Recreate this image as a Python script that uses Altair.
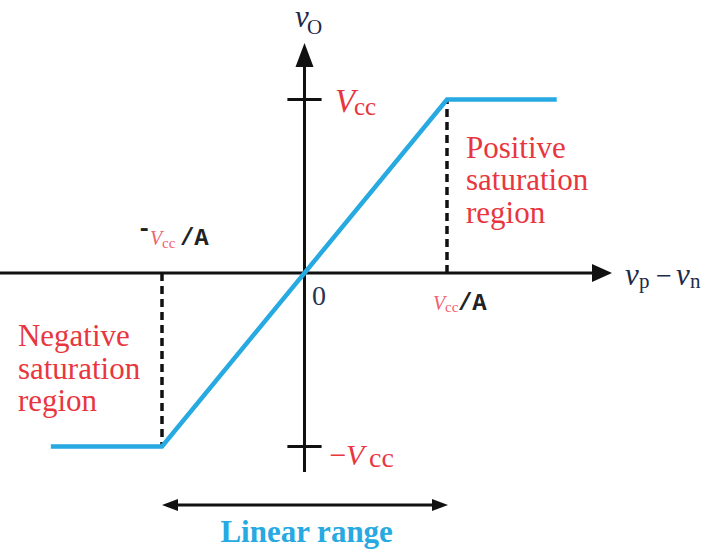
import altair as alt
import pandas as pd

# Op-amp transfer characteristic: x in units of Vcc/A, y in units of Vcc
curve_x = [-1.78, -1.0, 1.0, 1.77]
curve_y = [-1.0, -1.0, 1.0, 1.0]

# saturation boundaries (dashed guides)
break_x = [-1.0, 1.0]
break_y = [-1.0, 1.0]

# tick marks on the output axis at +Vcc and -Vcc
tick_levels = [1.0, -1.0]

# visible window of the drawing
X_DOM = [-2.1368, 2.9509]
Y_DOM = [-1.6138, 1.5735]

RED = "#e8363f"
PINK = "#f2606f"
BLUE = "#27a9e1"
INK = "#1e2a48"
BLACK = "#111111"
SERIF = "'Liberation Serif', 'Times New Roman', 'DejaVu Serif', serif"
MONO = "'Liberation Mono', 'Courier New', 'DejaVu Sans Mono', monospace"

xs = alt.Scale(domain=X_DOM, nice=False, zero=False)
ys = alt.Scale(domain=Y_DOM, nice=False, zero=False)


def X(f):
    return alt.X(f, type="quantitative", scale=xs, axis=None)


def Y(f):
    return alt.Y(f, type="quantitative", scale=ys, axis=None)


def X2(f):
    return alt.X2(f)


def Y2(f):
    return alt.Y2(f)


# axes drawn as arrows through the origin
axes_df = pd.DataFrame({
    "x1": [-2.14, 0.0], "x2": [2.12, 0.0],
    "y1": [0.0, -1.147], "y2": [0.0, 1.29],
})
axes = alt.Chart(axes_df).mark_rule(color=BLACK, strokeWidth=3).encode(
    x=X("x1"), x2=X2("x2"), y=Y("y1"), y2=Y2("y2"))

ticks_df = pd.DataFrame({"y": tick_levels, "x1": [-0.12] * 2, "x2": [0.12] * 2})
ticks = alt.Chart(ticks_df).mark_rule(color=BLACK, strokeWidth=3).encode(
    x=X("x1"), x2=X2("x2"), y=Y("y"), y2=Y2("y"))

guides_df = pd.DataFrame({"x": break_x, "y1": [0.0, 0.0], "y2": break_y})
guides = alt.Chart(guides_df).mark_rule(
    color=BLACK, strokeWidth=3.5, strokeDash=[8, 5]).encode(
    x=X("x"), x2=X2("x"), y=Y("y1"), y2=Y2("y2"))

# linear range double arrow
span_df = pd.DataFrame({"x1": [-0.95], "x2": [0.96], "y": [-1.337]})
span = alt.Chart(span_df).mark_rule(color=BLACK, strokeWidth=3).encode(
    x=X("x1"), x2=X2("x2"), y=Y("y"), y2=Y2("y"))

RIGHT = "M0,0 L-1,-0.45 L-1,0.45 Z"
LEFT = "M0,0 L1,-0.38 L1,0.38 Z"
UP = "M0,0 L-0.375,1 L0.375,1 Z"
RIGHT_S = "M0,0 L-1,-0.38 L-1,0.38 Z"


def head(x, y, shape, size):
    df = pd.DataFrame({"x": [x], "y": [y]})
    return alt.Chart(df).mark_point(
        shape=shape, size=size, filled=True, color=BLACK, opacity=1,
        strokeWidth=0).encode(x=X("x"), y=Y("y"))


heads = [
    head(2.158, 0.0, RIGHT, 1600),
    head(0.0, 1.326, UP, 2304),
    head(-1.0, -1.337, LEFT, 1024),
    head(1.007, -1.337, RIGHT_S, 1024),
]

curve_df = pd.DataFrame({"x": curve_x, "y": curve_y, "i": range(len(curve_x))})
curve = alt.Chart(curve_df).mark_line(
    color=BLUE, strokeWidth=4.5, strokeJoin="miter").encode(
    x=X("x"), y=Y("y"), order="i:O")

# text annotations: (text, x, y, style)
labels = [
    ("v", -0.067, 1.420, "var"),
    ("O", 0.018, 1.376, "sub"),
    ("V", 0.214, 0.928, "redV"),
    ("cc", 0.347, 0.911, "redsub"),
    ("\u2212", 0.175, -1.107, "redminus"),
    ("V", 0.291, -1.107, "redV2"),
    ("cc", 0.453, -1.118, "redsub2"),
    ("0", 0.053, -0.184, "zero"),
    ("Positive\nsaturation\nregion", 1.133, 0.663, "region"),
    ("Negative\nsaturation\nregion", -2.011, -0.421, "region"),
    ("-", -1.175, 0.213, "mono"),
    ("V", -1.084, 0.161, "smallV"),
    ("cc", -1.0, 0.144, "smallsub"),
    ("/A", -0.874, 0.161, "mono"),
    ("V", 0.902, -0.213, "smallV"),
    ("cc", 0.986, -0.225, "smallsub"),
    ("/A", 1.077, -0.213, "mono"),
    ("v", 2.249, -0.069, "var"),
    ("p", 2.347, -0.086, "sub"),
    ("\u2212", 2.467, -0.069, "op"),
    ("v", 2.607, -0.069, "var"),
    ("n", 2.705, -0.086, "sub"),
    ("Linear range", 0.015, -1.55, "linear"),
]

styles = {
    "var": dict(font=SERIF, fontSize=31, fontStyle="italic", color=INK),
    "sub": dict(font=SERIF, fontSize=21, color=INK),
    "op": dict(font=SERIF, fontSize=28, color=INK),
    "zero": dict(font=SERIF, fontSize=28, color="#2a3550"),
    "redV": dict(font=SERIF, fontSize=33, fontStyle="italic", color=RED),
    "redsub": dict(font=SERIF, fontSize=25, color=RED),
    "redminus": dict(font=SERIF, fontSize=30, color=RED),
    "redV2": dict(font=SERIF, fontSize=30, fontStyle="italic", color=RED),
    "redsub2": dict(font=SERIF, fontSize=28, color=RED),
    "region": dict(font=SERIF, fontSize=31, color=RED, lineBreak="\n",
                   lineHeight=32.5),
    "smallV": dict(font=SERIF, fontSize=20, fontStyle="italic", color=PINK),
    "smallsub": dict(font=SERIF, fontSize=15, color=PINK),
    "mono": dict(font=MONO, fontSize=24, fontWeight="bold", color="#222222"),
    "linear": dict(font=SERIF, fontSize=31, fontWeight="bold", color=BLUE,
                   align="center"),
}

texts = []
for txt, lx, ly, key in labels:
    st = dict(align="left", baseline="alphabetic")
    st.update(styles[key])
    df = pd.DataFrame({"x": [lx], "y": [ly], "t": [txt]})
    texts.append(alt.Chart(df).mark_text(**st).encode(
        x=X("x"), y=Y("y"), text="t:N"))

chart = alt.layer(axes, ticks, guides, span, *heads, curve, *texts).properties(
    width=725, height=553,
    autosize=alt.AutoSizeParams(type="none"),
    padding=0,
    background="white",
).configure_view(stroke=None)

chart.save("out.html", embed_options={"renderer": "svg", "actions": False})
